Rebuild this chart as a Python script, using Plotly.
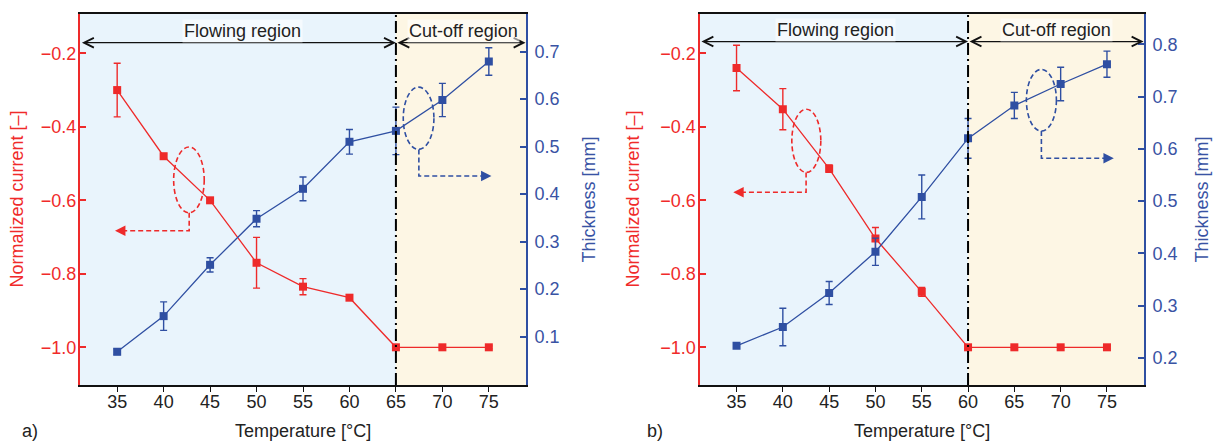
import plotly.graph_objects as go

# ---------------- data ----------------
temps = [35, 40, 45, 50, 55, 60, 65, 70, 75]

current_a = [-0.30, -0.48, -0.60, -0.77, -0.835, -0.865, -1.0, -1.0, -1.0]
current_err_a = [0.073, 0.006, 0.006, 0.069, 0.022, 0.004, 0.004, 0.004, 0.004]
thick_a = [0.068, 0.143, 0.251, 0.348, 0.411, 0.51, 0.533, 0.598, 0.679]
thick_err_a = [0.006, 0.03, 0.015, 0.017, 0.025, 0.026, 0.05, 0.035, 0.029]

current_b = [-0.24, -0.352, -0.514, -0.704, -0.849, -1.0, -1.0, -1.0, -1.0]
current_err_b = [0.062, 0.056, 0.01, 0.03, 0.012, 0.004, 0.004, 0.004, 0.004]
thick_b = [0.223, 0.259, 0.324, 0.403, 0.508, 0.62, 0.683, 0.724, 0.762]
thick_err_b = [0.004, 0.036, 0.022, 0.026, 0.042, 0.038, 0.025, 0.032, 0.025]

x_ticks = [35, 40, 45, 50, 55, 60, 65, 70, 75]
current_ticks = [-1.0, -0.8, -0.6, -0.4, -0.2]
thick_ticks_a = [0.1, 0.2, 0.3, 0.4, 0.5, 0.6, 0.7]
thick_ticks_b = [0.2, 0.3, 0.4, 0.5, 0.6, 0.7, 0.8]

cutoff_a = 65
cutoff_b = 60

# ---------------- style ----------------
RED = "#ee2a2a"
BLUE = "#2f4fa2"
RED_T = "#f02a2a"
BLUE_T = "#3953a4"
BG_FLOW = "#e9f4fc"
BG_CUT = "#fdf6e4"
FONT = "Liberation Sans, Arial, sans-serif"
FS = 18

XR = [31, 79]
YL = [-1.1026, -0.093]
YRA = [-0.002, 0.779]
YRB = [0.148, 0.858]
YDOM = [1 - 385 / 442, 1 - 14 / 442]
XDOM_A = [80 / 1216, 526 / 1216]
XDOM_B = [699.5 / 1216, 1144 / 1216]

fig = go.Figure()


def add_panel(xa, ya, yb, cur, cur_err, th, th_err):
    fig.add_trace(go.Scatter(
        x=temps, y=th, xaxis=xa, yaxis=yb, mode="lines+markers",
        line=dict(color=BLUE, width=1.3),
        marker=dict(symbol="square", size=8, color=BLUE),
        error_y=dict(type="data", array=th_err, visible=True, color=BLUE,
                     thickness=1.4, width=3.5),
        showlegend=False))
    fig.add_trace(go.Scatter(
        x=temps, y=cur, xaxis=xa, yaxis=ya, mode="lines+markers",
        line=dict(color=RED, width=1.3),
        marker=dict(symbol="square", size=8, color=RED),
        error_y=dict(type="data", array=cur_err, visible=True, color=RED,
                     thickness=1.4, width=3.5),
        showlegend=False))


add_panel("x", "y", "y2", current_a, current_err_a, thick_a, thick_err_a)
add_panel("x2", "y3", "y4", current_b, current_err_b, thick_b, thick_err_b)

xcommon = dict(range=XR, tickvals=x_ticks, ticks="outside", ticklen=5,
               tickcolor="#111", tickwidth=1.3, showline=True, linecolor="#111",
               linewidth=1.5, mirror=True, showgrid=False, zeroline=False,
               tickfont=dict(size=FS, color="#222", family=FONT),
               ticklabelstandoff=-5, automargin=False)
yleft = dict(range=YL, tickvals=current_ticks, tickformat=".1f",
             ticks="inside", ticklen=6, tickcolor=RED, tickwidth=1.5,
             showline=True, linecolor=RED, linewidth=2, showgrid=False,
             zeroline=False, tickfont=dict(size=FS, color=RED_T, family=FONT),
             ticklabelstandoff=-2, domain=YDOM, automargin=False)
yright = dict(ticks="inside", ticklen=6, tickcolor=BLUE, tickwidth=1.5,
              showline=True, linecolor=BLUE, linewidth=2, showgrid=False,
              zeroline=False, tickfont=dict(size=FS, color=BLUE_T, family=FONT),
              ticklabelstandoff=3, side="right", tickformat=".1f", automargin=False)

fig.update_layout(
    width=1216, height=442,
    margin=dict(l=0, r=0, t=0, b=0),
    paper_bgcolor="white", plot_bgcolor="white",
    font=dict(family=FONT, size=FS, color="#222"),
    xaxis=dict(domain=XDOM_A, anchor="y", **xcommon),
    yaxis=dict(anchor="x", **yleft),
    yaxis2=dict(anchor="x", overlaying="y", range=YRA, tickvals=thick_ticks_a, **yright),
    xaxis2=dict(domain=XDOM_B, anchor="y3", **xcommon),
    yaxis3=dict(anchor="x2", **yleft),
    yaxis4=dict(anchor="x2", overlaying="y3", range=YRB, tickvals=thick_ticks_b, **yright),
)

shapes = []
annotations = []


def panel_decor(xr, yr, yr2, cut, arrow_y, text_y, flow_x, cut_x,
                red_ell, red_path, blue_ell, blue_path):
    # region backgrounds
    shapes.append(dict(type="rect", xref=xr, yref=yr + " domain", x0=XR[0], x1=cut,
                       y0=0, y1=1, fillcolor=BG_FLOW, line=dict(width=0), layer="below"))
    shapes.append(dict(type="rect", xref=xr, yref=yr + " domain", x0=cut, x1=XR[1],
                       y0=0, y1=1, fillcolor=BG_CUT, line=dict(width=0), layer="below"))
    # dash-dot boundary
    shapes.append(dict(type="line", xref=xr, yref=yr + " domain", x0=cut, x1=cut,
                       y0=0, y1=1, line=dict(color="black", width=2,
                                             dash="12px,4px,2px,4px"), layer="above"))
    # double arrows
    for a0, a1 in [(XR[0] + 0.05, cut), (cut, XR[1] - 0.05)]:
        annotations.append(dict(xref=xr, yref=yr, axref=xr, ayref=yr,
                                x=a1, y=arrow_y, ax=a0, ay=arrow_y, text="",
                                showarrow=True, arrowhead=5, startarrowhead=5,
                                arrowside="end+start", arrowsize=1.6,
                                startarrowsize=1.6, arrowwidth=1.2,
                                arrowcolor="#111", standoff=0, startstandoff=0))
    annotations.append(dict(xref=xr, yref=yr, x=flow_x, y=text_y, text="Flowing region",
                            showarrow=False, font=dict(size=FS, color="#222"),
                            xanchor="center", yanchor="middle",
                            bgcolor="rgba(255,255,255,0.55)", borderpad=1))
    annotations.append(dict(xref=xr, yref=yr, x=cut_x, y=text_y, text="Cut-off region",
                            showarrow=False, font=dict(size=FS, color="#222"),
                            xanchor="center", yanchor="middle",
                            bgcolor="rgba(255,255,255,0.55)", borderpad=1))
    # red ellipse + dashed L arrow (left axis)
    ex0, ex1, ey0, ey1 = red_ell
    shapes.append(dict(type="circle", xref=xr, yref=yr, x0=ex0, x1=ex1, y0=ey0, y1=ey1,
                       line=dict(color=RED, width=1.6, dash="5px,3px"), layer="above"))
    px0, py0, py1, px2 = red_path
    shapes.append(dict(type="path", xref=xr, yref=yr,
                       path=f"M {px0},{py0} L {px0},{py1} L {px2 + 0.6},{py1}",
                       line=dict(color=RED, width=1.6, dash="5px,3px"), layer="above"))
    annotations.append(dict(xref=xr, yref=yr, axref=xr, ayref=yr, x=px2, y=py1,
                            ax=px2 + 0.7, ay=py1, text="", showarrow=True, arrowhead=2,
                            arrowsize=1.3, arrowwidth=1.6, arrowcolor=RED, standoff=0))
    # blue ellipse + dashed L arrow (right axis)
    ex0, ex1, ey0, ey1 = blue_ell
    shapes.append(dict(type="circle", xref=xr, yref=yr2, x0=ex0, x1=ex1, y0=ey0, y1=ey1,
                       line=dict(color=BLUE, width=1.6, dash="5px,3px"), layer="above"))
    px0, py0, py1, px2 = blue_path
    shapes.append(dict(type="path", xref=xr, yref=yr2,
                       path=f"M {px0},{py0} L {px0},{py1} L {px2 - 0.6},{py1}",
                       line=dict(color=BLUE, width=1.6, dash="5px,3px"), layer="above"))
    annotations.append(dict(xref=xr, yref=yr2, axref=xr, ayref=yr2, x=px2, y=py1,
                            ax=px2 - 0.7, ay=py1, text="", showarrow=True, arrowhead=2,
                            arrowsize=1.3, arrowwidth=1.6, arrowcolor=BLUE, standoff=0))


panel_decor("x", "y", "y2", cutoff_a, -0.171, -0.138, 48.5, 72.3,
            (41.08, 44.37, -0.634, -0.455), (42.75, -0.634, -0.683, 34.77),
            (65.79, 69.09, 0.494, 0.625), (67.47, 0.494, 0.438, 75.28))
panel_decor("x2", "y3", "y4", cutoff_b, -0.168, -0.137, 45.65, 69.54,
            (40.97, 44.10, -0.524, -0.352), (42.51, -0.524, -0.578, 34.65),
            (66.30, 69.54, 0.634, 0.752), (67.92, 0.634, 0.582, 75.74))

# axis titles and panel labels (paper coordinates)
ymid = 1 - 199.5 / 442
for xp, txt, col in [(17 / 1216, "Normalized current [–]", RED_T),
                     (633 / 1216, "Normalized current [–]", RED_T),
                     (589 / 1216, "Thickness [mm]", BLUE_T),
                     (1202 / 1216, "Thickness [mm]", BLUE_T)]:
    annotations.append(dict(xref="paper", yref="paper", x=xp, y=ymid, text=txt,
                            textangle=-90, showarrow=False,
                            xanchor="center", yanchor="middle",
                            font=dict(size=FS, color=col)))
for xp in [303 / 1216, 921.7 / 1216]:
    annotations.append(dict(xref="paper", yref="paper", x=xp, y=1 - 431 / 442,
                            text="Temperature [°C]", showarrow=False,
                            xanchor="center", yanchor="middle",
                            font=dict(size=FS, color="#222")))
for xp, txt in [(30 / 1216, "a)"), (655 / 1216, "b)")]:
    annotations.append(dict(xref="paper", yref="paper", x=xp, y=1 - 431 / 442,
                            text=txt, showarrow=False,
                            xanchor="center", yanchor="middle",
                            font=dict(size=FS, color="#222")))

fig.update_layout(shapes=shapes, annotations=annotations)

fig.write_html("out.html", config={"displayModeBar": False},
               post_script="document.body.style.margin='0';document.body.style.overflow='hidden';")
